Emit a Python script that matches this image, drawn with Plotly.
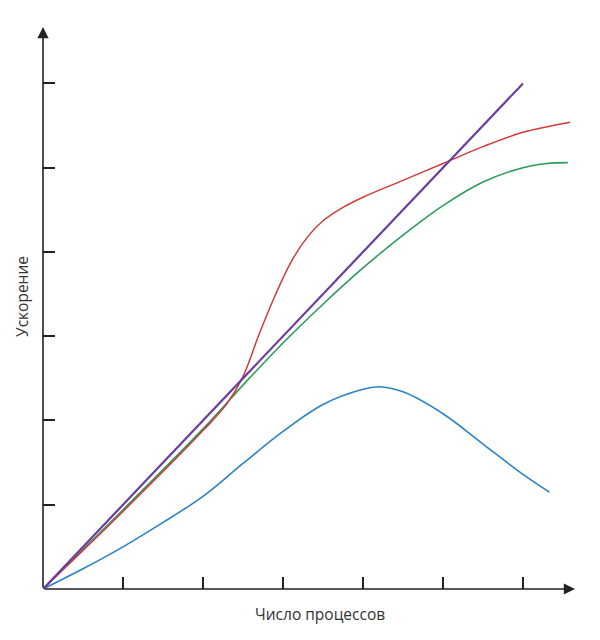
import plotly.graph_objects as go

# Speedup vs. number of processes (axis units = tick spacing)
ideal_x = [0, 6]
ideal_y = [0, 6]

red_x = [0, 1, 2, 2.3, 2.5, 2.7, 2.9, 3.1, 3.3, 3.5, 3.75, 4.0, 4.5, 5.0, 5.5, 6.0, 6.59]
red_y = [0, 0.92, 1.88, 2.2, 2.52, 3.02, 3.48, 3.88, 4.17, 4.37, 4.53, 4.65, 4.85, 5.05, 5.25, 5.42, 5.54]

green_x = [0, 1, 2, 2.5, 3.0, 3.5, 4.0, 4.5, 5.0, 5.5, 6.0, 6.3, 6.56]
green_y = [0, 0.94, 1.9, 2.42, 2.92, 3.38, 3.81, 4.2, 4.55, 4.83, 5.0, 5.05, 5.06]

blue_x = [0, 0.5, 1, 1.5, 2, 2.5, 3, 3.5, 4, 4.2, 4.5, 5, 5.5, 6, 6.33]
blue_y = [0, 0.24, 0.5, 0.79, 1.1, 1.49, 1.87, 2.19, 2.37, 2.40, 2.34, 2.08, 1.72, 1.36, 1.15]

tick_vals = [1, 2, 3, 4, 5, 6]

x_max = 6.65
y_max = 6.67
axis_color = "#222222"

fig = go.Figure()

for xs, ys, color, width in [
    (blue_x, blue_y, "#2b83c6", 1.6),
    (green_x, green_y, "#2b9b5b", 1.6),
    (red_x, red_y, "#d23a3a", 1.5),
    (ideal_x, ideal_y, "#6a3d9e", 2.2),
]:
    fig.add_trace(
        go.Scatter(
            x=xs,
            y=ys,
            mode="lines",
            line=dict(color=color, width=width, shape="spline", smoothing=1.0),
            showlegend=False,
            hoverinfo="skip",
        )
    )

# axis lines with arrowheads
for tip_x, tip_y in [(x_max, 0), (0, y_max)]:
    fig.add_annotation(
        x=tip_x, y=tip_y, ax=0, ay=0,
        xref="x", yref="y", axref="x", ayref="y",
        text="", showarrow=True,
        arrowhead=2, arrowsize=1.4, arrowwidth=1.6, arrowcolor=axis_color,
    )

fig.add_annotation(
    text="Число процессов", xref="paper", yref="paper",
    x=0.521, y=-0.044, xanchor="center", yanchor="middle", showarrow=False,
    font=dict(size=15.5, color="#333333"),
)
fig.add_annotation(
    text="Ускорение", xref="paper", yref="paper",
    x=-0.04, y=0.521, xanchor="center", yanchor="middle", showarrow=False,
    textangle=-90,
    font=dict(size=15.5, color="#333333"),
)

fig.update_xaxes(
    range=[0, x_max], showgrid=False, zeroline=False, showline=False,
    tickvals=tick_vals, ticks="inside", ticklen=12, tickwidth=1.5,
    tickcolor=axis_color, showticklabels=False,
)
fig.update_yaxes(
    range=[0, y_max], showgrid=False, zeroline=False, showline=False,
    tickvals=tick_vals, ticks="inside", ticklen=12, tickwidth=1.5,
    tickcolor=axis_color, showticklabels=False,
)

# the page body adds an 8px margin, so the figure is sized to fit inside it
fig.update_layout(
    width=592,
    height=632,
    margin=dict(l=35, r=25, t=19, b=51),
    plot_bgcolor="white",
    paper_bgcolor="white",
    font=dict(family="Open Sans, Noto Sans, sans-serif"),
)

fig.write_html("out.html")
